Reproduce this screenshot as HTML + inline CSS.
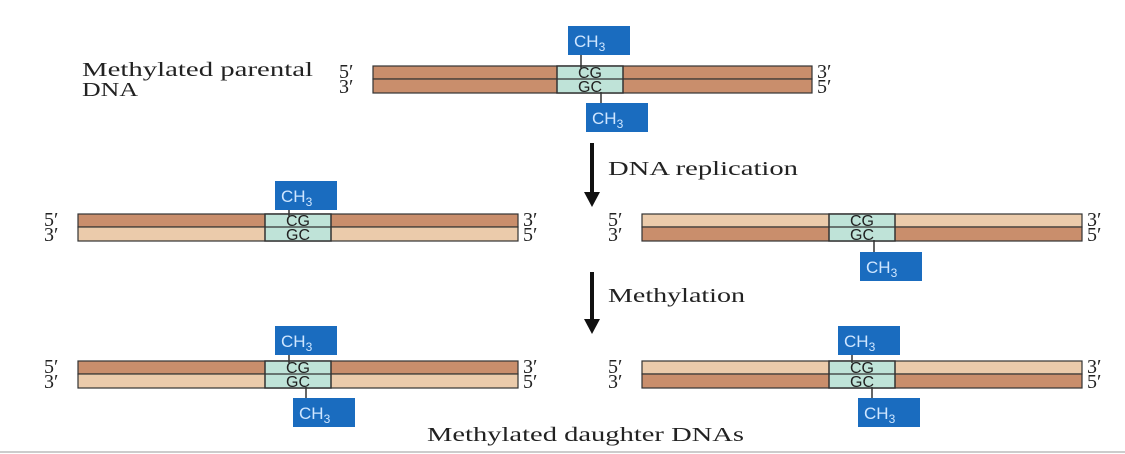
<!DOCTYPE html>
<html><head><meta charset="utf-8"><style>
html,body{margin:0;padding:0;background:#fff;width:1125px;height:454px;overflow:hidden}
svg{display:block}
text{font-family:"Liberation Serif",serif;fill:#222}
</style></head><body>
<svg id="s" width="1125" height="454" xmlns="http://www.w3.org/2000/svg">
<line x1="0" y1="452" x2="1125" y2="452" stroke="#ccc" stroke-width="2"/>
<text x="82" y="76" font-size="20" textLength="231" lengthAdjust="spacingAndGlyphs">Methylated parental</text>
<text x="82" y="96" font-size="20" textLength="56" lengthAdjust="spacingAndGlyphs">DNA</text>
<line x1="592" y1="143" x2="592" y2="195" stroke="#111" stroke-width="4"/>
<polygon points="584,192 600,192 592,207" fill="#111"/>
<text x="608" y="175" font-size="20" textLength="190" lengthAdjust="spacingAndGlyphs">DNA replication</text>
<line x1="592" y1="272" x2="592" y2="322" stroke="#111" stroke-width="4"/>
<polygon points="584,319 600,319 592,334" fill="#111"/>
<text x="608" y="302" font-size="20" textLength="137" lengthAdjust="spacingAndGlyphs">Methylation</text>
<text x="427" y="441" font-size="20" textLength="317" lengthAdjust="spacingAndGlyphs">Methylated daughter DNAs</text>
</svg>
<script>
var s=document.getElementById('s'),h='';
var D='#c98e6c',L='#ebcbab';
function dna(x0,x1,y,c1,c2,bx){
 h+='<rect x="'+x0+'" y="'+y+'" width="'+(x1-x0)+'" height="13" fill="'+c1+'" stroke="#333" stroke-width="1.2"/>';
 h+='<rect x="'+x0+'" y="'+(y+13)+'" width="'+(x1-x0)+'" height="14" fill="'+c2+'" stroke="#333" stroke-width="1.2"/>';
 h+='<rect x="'+bx+'" y="'+y+'" width="66" height="27" fill="#bfe3d8" stroke="#333" stroke-width="1.5"/>';
 h+='<line x1="'+bx+'" y1="'+(y+13)+'" x2="'+(bx+66)+'" y2="'+(y+13)+'" stroke="#333" stroke-width="1.2"/>';
 h+='<text x="'+(bx+33)+'" y="'+(y+12)+'" font-size="16" text-anchor="middle" style="font-family:Liberation Sans,sans-serif">CG</text>';
 h+='<text x="'+(bx+33)+'" y="'+(y+26)+'" font-size="16" text-anchor="middle" style="font-family:Liberation Sans,sans-serif">GC</text>';
 h+='<text x="'+(x0-34)+'" y="'+(y+12)+'" font-size="20">5′</text><text x="'+(x0-34)+'" y="'+(y+27)+'" font-size="20">3′</text>';
 h+='<text x="'+(x1+5)+'" y="'+(y+12)+'" font-size="20">3′</text><text x="'+(x1+5)+'" y="'+(y+27)+'" font-size="20">5′</text>';
}
function ch(x,y,lx,ly1,ly2){
 h+='<line x1="'+lx+'" y1="'+ly1+'" x2="'+lx+'" y2="'+ly2+'" stroke="#333" stroke-width="1.5"/>';
 h+='<rect x="'+x+'" y="'+y+'" width="62" height="29" fill="#1a6cbf"/>';
 h+='<text x="'+(x+6)+'" y="'+(y+21)+'" font-size="17" style="fill:#cfe6ff;font-family:Liberation Sans,sans-serif">CH<tspan font-size="12" dy="4">3</tspan></text>';
}
dna(373,812,66,D,D,557); ch(568,26,581,55,68); ch(586,103,601,92,105);
dna(78,518,214,D,L,265); ch(275,181,289,210,216);
dna(642,1082,214,L,D,829); ch(860,252,874,240,254);
dna(78,518,361,D,L,265); ch(275,326,289,355,363); ch(293,398,306,387,400);
dna(642,1082,361,L,D,829); ch(838,326,852,355,363); ch(858,398,872,387,400);
s.insertAdjacentHTML('beforeend',h);
</script>
</body></html>
